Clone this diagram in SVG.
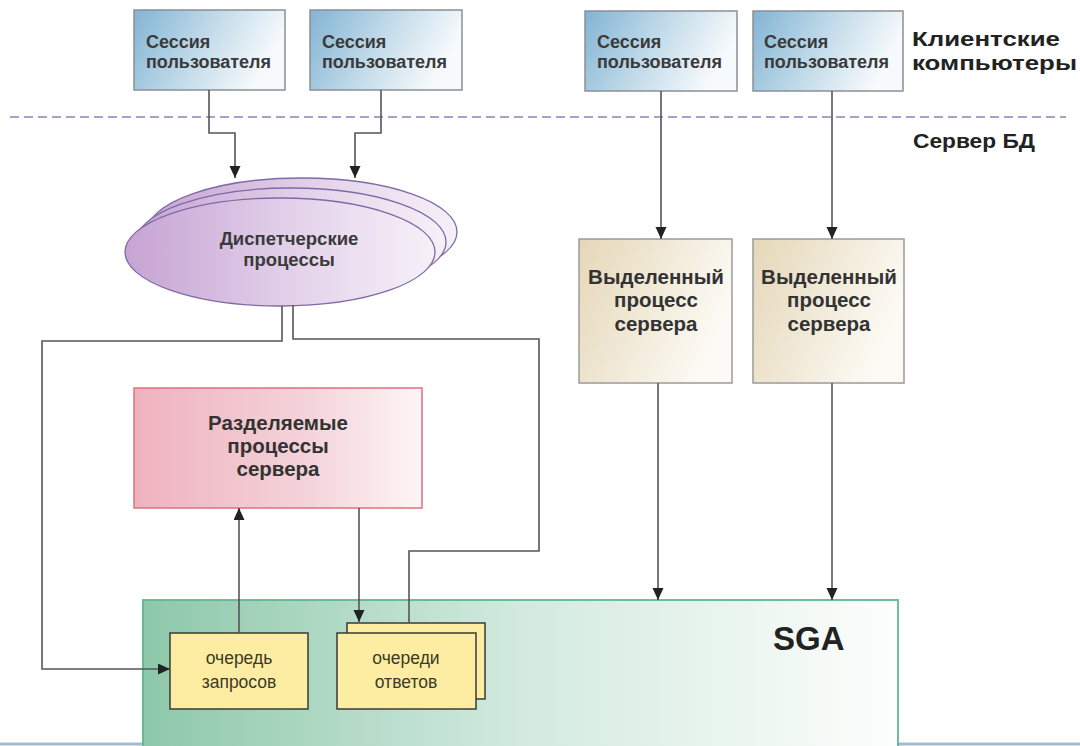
<svg xmlns="http://www.w3.org/2000/svg" width="1080" height="746" viewBox="0 0 1080 746">
<defs>
<linearGradient id="gBlue" x1="0" y1="0" x2="1" y2="0.3"><stop offset="0" stop-color="#82b4d4"/><stop offset="0.55" stop-color="#c4dcea"/><stop offset="1" stop-color="#f7fafc"/></linearGradient>
<linearGradient id="gBeige" x1="0" y1="0" x2="1" y2="0.4"><stop offset="0" stop-color="#e5d7b8"/><stop offset="1" stop-color="#fcfaf4"/></linearGradient>
<linearGradient id="gRed" x1="0" y1="0" x2="1" y2="0"><stop offset="0" stop-color="#eeb2bf"/><stop offset="0.6" stop-color="#f4d3d9"/><stop offset="1" stop-color="#fdf5f6"/></linearGradient>
<linearGradient id="gPurple" x1="0" y1="0" x2="1" y2="0"><stop offset="0" stop-color="#c6a3d3"/><stop offset="0.6" stop-color="#e6d6ec"/><stop offset="1" stop-color="#f6f0f8"/></linearGradient>
<linearGradient id="gGreen" x1="0" y1="0" x2="1" y2="0"><stop offset="0" stop-color="#8dc8aa"/><stop offset="0.5" stop-color="#d2eadf"/><stop offset="1" stop-color="#fdfefd"/></linearGradient>
<marker id="arr" markerUnits="userSpaceOnUse" markerWidth="12" markerHeight="12" refX="12" refY="5.5" orient="auto"><path d="M0,0 L12,5.5 L0,11 z" fill="#222"/></marker>
</defs>
<style>
.sess{fill:url(#gBlue);stroke:#8a8f96;stroke-width:1.5}
.sesst{font-family:"Liberation Sans",Arial,sans-serif;font-size:18px;font-weight:bold;fill:#3a3a3a}
.ded{fill:url(#gBeige);stroke:#9a9a9a;stroke-width:1.5}
.dedt{font-family:"Liberation Sans",Arial,sans-serif;font-size:20.5px;font-weight:bold;fill:#333;text-anchor:middle}
.lbl{font-family:"Liberation Sans",Arial,sans-serif;font-size:21px;font-weight:bold;fill:#222}
.disp{fill:url(#gPurple);stroke:#7f6aa6;stroke-width:1.3}
.dispt{font-family:"Liberation Sans",Arial,sans-serif;font-size:18.5px;font-weight:bold;fill:#3a3a3a;text-anchor:middle}
.shr{fill:url(#gRed);stroke:#e0707f;stroke-width:1.5}
.shrt{font-family:"Liberation Sans",Arial,sans-serif;font-size:20.5px;font-weight:bold;fill:#333;text-anchor:middle}
.q{fill:#fdeda2;stroke:#3a3a3a;stroke-width:1.5}
.qt{font-family:"Liberation Sans",Arial,sans-serif;font-size:17.5px;fill:#3a3a2a;text-anchor:middle}
.ln{fill:none;stroke:#555;stroke-width:1.6}
</style>
<rect width="1080" height="746" fill="#ffffff"/>
<line x1="0" y1="744" x2="1080" y2="744" stroke="#a3bcd0" stroke-width="3"/>
<line x1="10" y1="117" x2="1066" y2="117" stroke="#a7a3c6" stroke-width="2" stroke-dasharray="9 5"/>
<text class="lbl" x="912" y="46" textLength="148" lengthAdjust="spacingAndGlyphs">Клиентские</text>
<text class="lbl" x="912" y="70" textLength="165" lengthAdjust="spacingAndGlyphs">компьютеры</text>
<text class="lbl" x="913" y="148" textLength="122" lengthAdjust="spacingAndGlyphs">Сервер БД</text>

<g id="sga">
<rect x="143" y="600" width="755" height="152" fill="url(#gGreen)" stroke="#5db98b" stroke-width="1.8"/>
<text x="773" y="650" font-family="'Liberation Sans',Arial,sans-serif" font-size="33" font-weight="bold" fill="#222">SGA</text>
</g>

<g id="session1"><rect class="sess" x="134" y="10" width="151" height="80"/><text class="sesst" x="146" y="48">Сессия</text><text class="sesst" x="146" y="68">пользователя</text></g>
<g id="session2"><rect class="sess" x="310" y="10" width="152" height="80"/><text class="sesst" x="322" y="48">Сессия</text><text class="sesst" x="322" y="68">пользователя</text></g>
<g id="session3"><rect class="sess" x="585" y="11" width="152" height="80"/><text class="sesst" x="597" y="48">Сессия</text><text class="sesst" x="597" y="68">пользователя</text></g>
<g id="session4"><rect class="sess" x="753" y="11" width="150" height="80"/><text class="sesst" x="764" y="48">Сессия</text><text class="sesst" x="764" y="68">пользователя</text></g>

<g id="dispatchers">
<ellipse class="disp" cx="302" cy="232" rx="155" ry="54"/>
<ellipse class="disp" cx="291" cy="242" rx="155" ry="54"/>
<ellipse class="disp" cx="280" cy="252" rx="155" ry="54"/>
<text class="dispt" x="289" y="245">Диспетчерские</text>
<text class="dispt" x="289" y="266">процессы</text>
</g>

<g id="dedicated1"><rect class="ded" x="579" y="239" width="153" height="144"/><text class="dedt" x="656" y="284">Выделенный</text><text class="dedt" x="656" y="307">процесс</text><text class="dedt" x="656" y="331">сервера</text></g>
<g id="dedicated2"><rect class="ded" x="753" y="239" width="151" height="144"/><text class="dedt" x="829" y="284">Выделенный</text><text class="dedt" x="829" y="307">процесс</text><text class="dedt" x="829" y="331">сервера</text></g>

<g id="shared"><rect class="shr" x="134" y="388" width="288" height="120"/><text class="shrt" x="278" y="430">Разделяемые</text><text class="shrt" x="278" y="453">процессы</text><text class="shrt" x="278" y="476">сервера</text></g>

<g id="requestQueue"><rect class="q" x="170" y="633" width="138" height="76"/><text class="qt" x="239" y="664">очередь</text><text class="qt" x="239" y="688">запросов</text></g>
<g id="responseQueues"><rect class="q" x="347" y="623" width="138" height="76"/><rect class="q" x="337" y="633" width="139" height="76"/><text class="qt" x="406" y="664">очереди</text><text class="qt" x="406" y="688">ответов</text></g>

<g id="connectors">
<path class="ln" d="M209,90 V133 H235 V178" marker-end="url(#arr)"/>
<path class="ln" d="M381,90 V133 H355 V178" marker-end="url(#arr)"/>
<path class="ln" d="M661,91 V239" marker-end="url(#arr)"/>
<path class="ln" d="M832,91 V239" marker-end="url(#arr)"/>
<path class="ln" d="M658,383 V600" marker-end="url(#arr)"/>
<path class="ln" d="M832,383 V600" marker-end="url(#arr)"/>
<path class="ln" d="M282,306 V341 H42 V669 H170" marker-end="url(#arr)"/>
<path class="ln" d="M293,305 V339 H539 V551 H409 V623"/>
<path class="ln" d="M239,633 V508" marker-end="url(#arr)"/>
<path class="ln" d="M359,508 V622" marker-end="url(#arr)"/>
</g>
</svg>
